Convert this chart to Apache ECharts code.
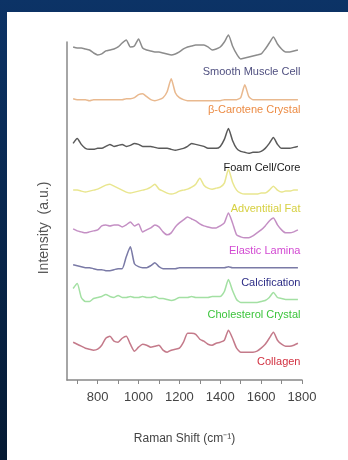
<!DOCTYPE html>
<html>
<head>
<meta charset="utf-8">
<script src="https://cdn.jsdelivr.net/npm/echarts@6/dist/echarts.min.js"></script>
<style>
  html, body { margin: 0; padding: 0; }
  body {
    width: 348px; height: 460px; overflow: hidden;
    background: linear-gradient(to bottom, #0c3366, #051a33);
    position: relative;
  }
  #chart { position: absolute; left: 7px; top: 12px; width: 341px; height: 448px; background: #fff; }
</style>
</head>
<body>
<div id="chart"></div>
<script>
// Raman shift grid (cm-1), 680..1780 step 20
var shifts = [680,700,720,740,760,780,800,820,840,860,880,900,920,940,960,980,1000,1020,1040,1060,
  1080,1100,1120,1140,1160,1180,1200,1220,1240,1260,1280,1300,1320,1340,1360,1380,1400,1420,1440,1460,
  1480,1500,1520,1540,1560,1580,1600,1620,1640,1660,1680,1700,1720,1740,1760,1780];

// stacked (offset) intensities, a.u.
var smoothMuscle = [335,334,334,333,332,329,327,328,331,332,333,335,339,342,335,336,343,334,332,331,
  330,330,329,328,327,328,330,333,335,336,337,337,337,335,332,333,335,340,347,336,
  328,323,324,325,326,327,328,333,339,345,338,333,330,330,331,332];
var carotene = [283,282,282,282,281,282,282,282,282,282,282,282,282,283,283,284,287,288,285,282,
  281,282,284,290,303,289,284,282,281,281,281,281,281,281,281,281,281,282,282,282,
  282,284,297,285,282,282,282,282,282,282,282,282,282,282,282,282];
var foamCell = [238,243,237,233,232,232,233,233,235,237,235,236,237,235,236,238,237,235,235,235,
  234,233,233,233,232,231,232,233,235,238,237,236,235,233,233,233,235,242,253,241,
  233,230,229,228,229,229,230,233,238,244,237,233,233,233,234,235];
var adventitialFat = [191,191,190,189,190,191,192,194,196,197,195,193,191,189,188,189,190,191,192,194,
  197,192,190,188,187,188,190,191,192,194,197,203,196,193,192,193,194,198,212,199,
  191,188,187,187,187,187,188,188,191,195,191,189,190,190,191,191];
var elasticLamina = [152,150,149,148,149,150,151,155,156,155,156,156,154,156,159,155,157,149,151,153,
  156,154,149,146,148,154,158,161,164,162,160,157,155,154,153,153,155,158,168,158,
  146,144,143,143,145,148,151,155,160,163,156,151,148,148,149,151];
var calcification = [116,115,114,113,113,112,111,111,110,110,111,112,112,124,134,117,114,113,113,115,
  118,114,112,112,112,112,113,113,113,113,113,113,113,113,113,113,113,113,114,113,
  113,113,113,113,113,113,113,113,113,113,113,113,113,113,113,113];
var cholesterol = [92,97,83,79,79,82,83,84,86,84,83,85,83,83,84,83,83,84,83,83,
  84,82,82,81,80,81,83,83,83,84,83,83,83,83,84,84,84,89,101,90,
  81,78,78,78,78,78,79,80,83,88,83,82,81,81,81,81];
var collagen = [38,36,34,32,31,30,31,35,42,44,39,38,42,44,36,29,33,36,35,33,
  34,35,30,28,30,31,32,38,47,47,46,41,39,36,35,37,38,40,50,42,
  32,28,28,28,28,29,32,36,42,48,40,36,34,34,35,37];

var names = ["Smooth Muscle Cell", "\u03b2-Carotene Crystal", "Foam Cell/Core", "Adventitial Fat",
  "Elastic Lamina", "Calcification", "Cholesterol Crystal", "Collagen"];
var spectra = [smoothMuscle, carotene, foamCell, adventitialFat, elasticLamina, calcification, cholesterol, collagen];
// where each name sits (same a.u. scale)
var labelLevels = [310, 272, 213, 172, 130, 98, 65, 18];
var lineColors = ["#8c8c8c", "#e9b98f", "#5a5a5a", "#e9e68f", "#c48fc4", "#7a7aa6", "#a3e0a3", "#c47a8a"];
var textColors = ["#505080", "#ec8c45", "#1a1a1a", "#d6d040", "#d24ad2", "#2d2d86", "#3cc43c", "#d23040"];

var tickValues = [700,800,900,1000,1100,1200,1300,1400,1500,1600,1700,1800];
var labelValues = [800,1000,1200,1400,1600,1800];

var chart = echarts.init(document.getElementById("chart"));

var series = [];
for (var i = 0; i < spectra.length; i++) {
  var pts = [];
  for (var j = 0; j < shifts.length; j++) {
    pts.push([shifts[j], spectra[i][j]]);
  }
  series.push({
    name: names[i],
    type: "line",
    data: pts,
    symbol: "none",
    smooth: 0.2,
    clip: false,
    lineStyle: { color: lineColors[i], width: 1.5 },
    markPoint: {
      symbol: "circle",
      symbolSize: 1,
      silent: true,
      itemStyle: { color: "rgba(0,0,0,0)" },
      data: [{
        coord: [1795, labelLevels[i]],
        label: {
          show: true,
          position: "left",
          distance: 0,
          formatter: names[i],
          color: textColors[i],
          fontSize: 11,
          fontFamily: "Liberation Sans Narrow, Liberation Sans, sans-serif"
        }
      }]
    }
  });
}

var option = {
  animation: false,
  grid: { left: 60, top: 30, right: 46, bottom: 80 },
  xAxis: {
    type: "value",
    min: 650,
    max: 1800,
    name: "Raman Shift (cm\u207b\u00b9)",
    nameLocation: "middle",
    nameGap: 53,
    nameTextStyle: { color: "#444", fontSize: 12, fontFamily: "Liberation Sans, sans-serif" },
    axisLine: { lineStyle: { color: "#888", width: 1.5 } },
    axisTick: { customValues: tickValues, length: 4, lineStyle: { color: "#888" } },
    axisLabel: { customValues: labelValues, color: "#444", fontSize: 13, margin: 11,
      formatter: function (v) { return String(v); },
      fontFamily: "Liberation Sans Narrow, Liberation Sans, sans-serif" },
    splitLine: { show: false }
  },
  yAxis: {
    type: "value",
    min: 0,
    max: 340,
    name: "Intensity  (a.u.)",
    nameLocation: "middle",
    nameGap: 16,
    nameTextStyle: { color: "#555", fontSize: 14, padding: [0, 34, 0, 0], fontFamily: "Liberation Sans, sans-serif" },
    axisLine: { show: true, lineStyle: { color: "#888", width: 1.5 } },
    axisTick: { show: false },
    axisLabel: { show: false },
    splitLine: { show: false }
  },
  series: series
};
chart.setOption(option);
</script>
</body>
</html>
